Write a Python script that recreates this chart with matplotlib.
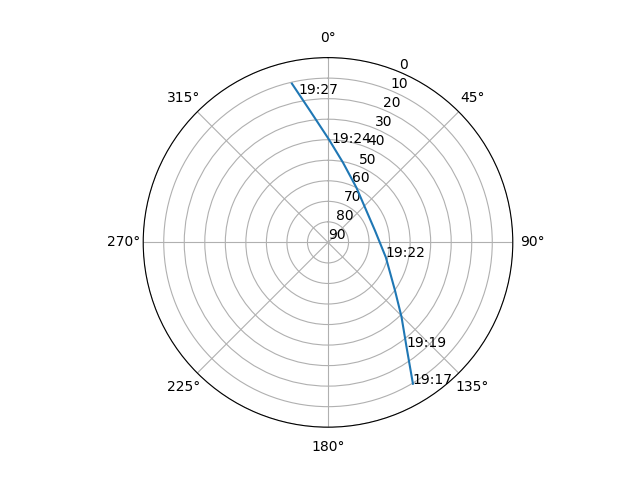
import numpy as np
import matplotlib
matplotlib.use("Agg")
import matplotlib.pyplot as plt

# satellite track (azimuth in degrees, elevation in degrees)
track_az = [149.0, 143.1, 135.4, 125.6, 104.5, 76.0, 27.3, 10.7, 0.4, -7.5, -12.8]
track_el = [9.7, 26.3, 39.0, 49.9, 60.9, 66.4, 59.9, 50.5, 39.7, 25.9, 10.7]

# time labels along the track
label_times = ["19:17", "19:19", "19:22", "19:24", "19:27"]
label_az = [149.0, 143.1, 104.5, 1.7, -11.1]
label_el = [9.7, 26.3, 60.9, 41.5, 16.3]

fig, ax = plt.subplots(figsize=(6.4, 4.8), subplot_kw={"projection": "polar"})
ax.set_theta_zero_location("N")
ax.set_theta_direction(-1)

ax.plot(np.radians(track_az), track_el)
for t, a, e in zip(label_times, label_az, label_el):
    ax.text(np.radians(a), e, t)

ax.set_ylim(90, 0)
ax.set_yticks(range(0, 91, 10))

plt.savefig("out.png", dpi=100)
